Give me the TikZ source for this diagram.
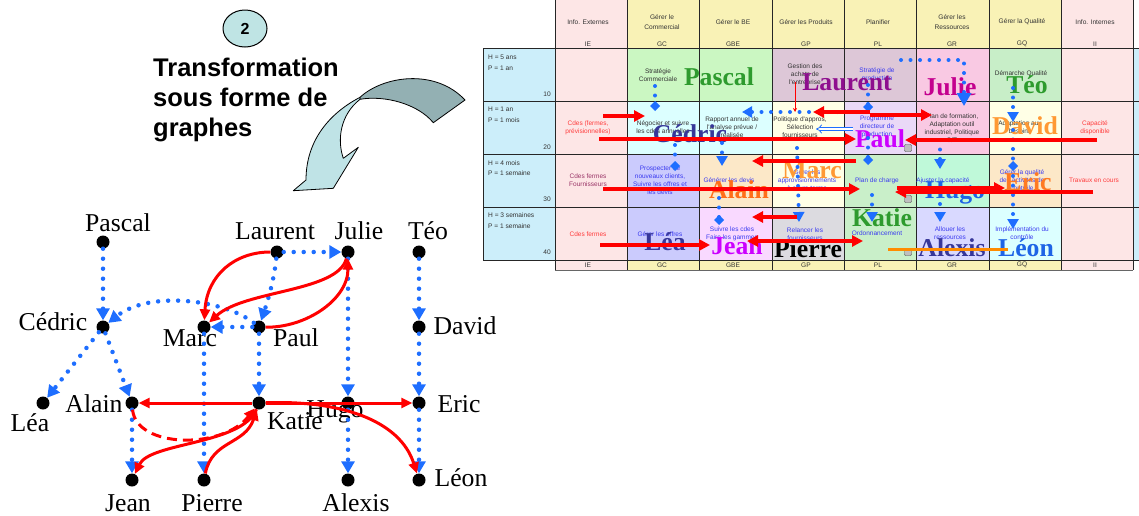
\documentclass[tikz,border=0pt]{standalone}
\usepackage{fontspec}
\setmainfont{Liberation Serif}
\newfontfamily\arial{Liberation Sans}
\usetikzlibrary{arrows.meta,shapes.geometric}
\definecolor{gblue}{HTML}{1E6EFF}
\definecolor{rowblue}{HTML}{CCEEFA}
\definecolor{cpink}{HTML}{FDE6E6}
\definecolor{cyell}{HTML}{F9F2B6}
\definecolor{cgreen}{HTML}{CBF7C2}
\definecolor{cmauve}{HTML}{DDC7D7}
\definecolor{cpinkgr}{HTML}{F9C9E3}
\definecolor{cgreengq}{HTML}{C8EEC8}
\definecolor{ccyan}{HTML}{DCFFFF}
\definecolor{civory}{HTML}{FFFFE6}
\definecolor{clav}{HTML}{EAD9F7}
\definecolor{clavblue}{HTML}{CBCBFD}
\definecolor{cpeach}{HTML}{FCE8C8}
\definecolor{cgreenpl}{HTML}{C9EFC9}
\definecolor{cmint}{HTML}{BFF9D9}
\definecolor{cpinklav}{HTML}{F9D9FF}
\definecolor{cgrey}{HTML}{DCDBE0}
\definecolor{clavgr}{HTML}{D9D9FF}
\definecolor{ctxt}{HTML}{333333}
\definecolor{cbtxt}{HTML}{3A3AF0}
\definecolor{crtxt}{HTML}{FF3B3B}
\definecolor{cmtxt}{HTML}{993366}
\definecolor{ngreen}{HTML}{2E9B2E}
\definecolor{nlaurent}{HTML}{8E0F8E}
\definecolor{njulie}{HTML}{C4008E}
\definecolor{ndblue}{HTML}{373799}
\definecolor{nviolet}{HTML}{CC00FF}
\definecolor{norange}{HTML}{FF9933}
\definecolor{nalain}{HTML}{FF6E1A}
\definecolor{neric}{HTML}{FF7A22}
\definecolor{nblue}{HTML}{1E64E6}
\definecolor{arrback}{HTML}{93B0B3}
\definecolor{arrfront}{HTML}{BFE3E6}
\definecolor{circfill}{HTML}{BFE4E4}
\definecolor{corange}{HTML}{FF8C00}
\begin{document}
\begin{tikzpicture}[x=1pt,y=-1pt,
  hdr/.style={font=\arial\fontsize{6.6}{9.3}\selectfont, text=ctxt, align=center, inner sep=0pt},
  rowtxt/.style={font=\arial\fontsize{6.6}{9}\selectfont, text=ctxt, anchor=west, inner sep=0pt},
  rownum/.style={font=\arial\fontsize{6.6}{9}\selectfont, text=ctxt, anchor=east, inner sep=0pt},
  celldark/.style={font=\arial\fontsize{6.5}{8.1}\selectfont, text=ctxt, align=center, inner sep=0pt},
  cellblue/.style={celldark, text=cbtxt},
  cellred/.style={celldark, text=crtxt},
  cellmar/.style={celldark, text=cmtxt},
  bigname/.style={font=\bfseries\fontsize{25.7}{30}\selectfont, anchor=base, inner sep=0pt},
  gline/.style={draw=black!85, line width=1pt},
  griddots/.style={draw=gblue, line width=4pt, line cap=round, dash pattern=on 0pt off 9.5pt},
  tiptri/.style={-{Triangle[length=10pt,width=11pt]}},
  tipdia/.style={-{Turned Square[length=10pt,width=10pt]}},
  gridred/.style={draw=red, line width=3.5pt, -{Triangle[length=11pt,width=11pt]}},
  robot/.style={draw=black!70, fill=black!25, line width=0.4pt, minimum width=7pt, minimum height=7pt, inner sep=0pt, rounded corners=1pt},
  vdot/.style={circle, fill=black, inner sep=0pt, minimum size=13pt},
  vlabel/.style={font=\fontsize{25.7}{30}\selectfont, anchor=base, inner sep=0pt},
  bluedots/.style={draw=gblue, line width=4.5pt, line cap=round, dash pattern=on 0pt off 10pt, -{Triangle[length=12pt,width=13pt]}},
  redarr/.style={draw=red, line width=3pt, -{Triangle[length=11pt,width=10pt]}},
  reddash/.style={redarr, dash pattern=on 10pt off 6pt}
]
\useasboundingbox (0,0) rectangle (1139,515);

% ---------------- title, circle and curved arrow
\node[ellipse, draw=black, line width=1pt, fill=circfill, minimum width=44pt, minimum height=37pt, inner sep=0pt,
  font=\arial\bfseries\fontsize{16}{18}\selectfont] (num) at (245,28.5) {2};
\node[font=\arial\bfseries\fontsize{25.5}{30}\selectfont, anchor=base west, inner sep=0pt] (t1) at (153,76) {Transformation};
\node[font=\arial\bfseries\fontsize{25.5}{30}\selectfont, anchor=base west, inner sep=0pt] (t2) at (153,106) {sous forme de};
\node[font=\arial\bfseries\fontsize{25.5}{30}\selectfont, anchor=base west, inner sep=0pt] (t3) at (153,136) {graphes};

\filldraw[fill=arrback, draw=black, line width=0.8pt, line join=round]
  (360,97.3) .. controls (383,76) and (435,68) .. (465,100) -- (433.3,122.7)
  .. controls (418,104) and (385,95) .. (360,99.3) -- cycle;
\filldraw[fill=arrfront, draw=black, line width=0.8pt, line join=round]
  (360,97.3) .. controls (330,113) and (306,140) .. (306,180) -- (293.3,190.7) -- (333.3,188.3)
  -- (358.3,147.3) -- (343.3,158.3) .. controls (337,140) and (340,115) .. (360,99.3) -- cycle;

% ---------------- grid fills
\fill[rowblue] (483,48) rectangle (555,260);
\fill[rowblue] (1133,48) rectangle (1139,260);
\foreach \xa/\xb/\c in {555/627/cpink,627/699/cyell,699/772/cyell,772/844/cyell,844/916/cyell,916/989/cyell,989/1061/cyell,1061/1133/cpink}{
  \fill[\c] (\xa,0) rectangle (\xb,48);
  \fill[\c] (\xa,260) rectangle (\xb,270);
}
\foreach \xa/\xb/\c in {555/627/cpink,627/699/cgreen,699/772/cgreen,772/844/cmauve,844/916/cmauve,916/989/cpinkgr,989/1061/cgreengq,1061/1133/cpink}
  \fill[\c] (\xa,48) rectangle (\xb,101);
\foreach \xa/\xb/\c in {555/627/cpink,627/699/ccyan,699/772/ccyan,772/844/civory,844/916/clav,916/989/cpinkgr,989/1061/civory,1061/1133/cpink}
  \fill[\c] (\xa,101) rectangle (\xb,154);
\foreach \xa/\xb/\c in {555/627/cpink,627/699/clavblue,699/772/cpeach,772/844/civory,844/916/cgreenpl,916/989/cmint,989/1061/cpeach,1061/1133/cpink}
  \fill[\c] (\xa,154) rectangle (\xb,207);
\foreach \xa/\xb/\c in {555/627/cpink,627/699/clavblue,699/772/cpinklav,772/844/cgrey,844/916/cgreenpl,916/989/clavgr,989/1061/ccyan,1061/1133/cpink}
  \fill[\c] (\xa,207) rectangle (\xb,260);

% grid lines
\foreach \x in {555,627,699,772,844,916,989,1061,1133}
  \draw[gline] (\x,0) -- (\x,270);
\draw[gline] (483,48) -- (483,260);
\foreach \y in {48,101,154,207,260}
  \draw[gline] (483,\y) -- (1139,\y);
\draw[draw=black!60, line width=0.6pt] (555,270) -- (1133,270);

% header texts
\node[hdr] at (588,22) {Info. Externes};
\node[hdr] at (662,22) {Gérer le\\Commercial};
\node[hdr] at (733,22) {Gérer le BE};
\node[hdr] at (806,22) {Gérer les Produits};
\node[hdr] at (878,22) {Planifier};
\node[hdr] at (952,22) {Gérer les\\Ressources};
\node[hdr] at (1022,22) {Gérer la Qualité};
\node[hdr] at (1095,22) {Info. Internes};
\foreach \x/\t in {588/IE,662/GC,733/GBE,806/GP,878/PL,952/GR,1022/GQ,1095/II}{
  \node[hdr] at (\x,44) {\t};
  \node[hdr] at (\x,265) {\t};
}

% row headers
\node[rowtxt] at (488,57) {H = 5 ans};
\node[rowtxt] at (488,68) {P = 1 an};
\node[rownum] at (551,94) {10};
\node[rowtxt] at (488,109) {H = 1 an};
\node[rowtxt] at (488,120.5) {P = 1 mois};
\node[rownum] at (551,147.5) {20};
\node[rowtxt] at (488,162.7) {H = 4 mois};
\node[rowtxt] at (488,172.7) {P = 1 semaine};
\node[rownum] at (551,199.3) {30};
\node[rowtxt] at (488,215) {H = 3 semaines};
\node[rowtxt] at (488,225.7) {P = 1 semaine};
\node[rownum] at (551,252.3) {40};

% cell texts row 10
\node[celldark] at (658,75) {Stratégie\\Commerciale};
\node[celldark] at (805,74.5) {Gestion des\\achats de\\l'entreprise};
\node[cellblue] at (877,75) {Stratégie de\\production};
\node[celldark] at (1021,74) {Démarche Qualité};
% row 20
\node[cellred] at (588,128) {Cdes (fermes,\\prévisionnelles)};
\node[celldark] at (663,127.5) {Négocier et suivre\\les cdes annuelles};
\node[celldark] at (732,127) {Rapport annuel de\\l'analyse prévue /\\réalisée};
\node[celldark] at (800,127) {Politique d'appros,\\Sélection\\fournisseurs};
\node[cellblue] at (877,127) {Programme\\directeur de\\production};
\node[celldark] at (952,128) {Plan de formation,\\Adaptation outil\\industriel, Politique\\S/T};
\node[celldark] at (1020,127.5) {Adaptation aux\\besoins};
\node[cellred] at (1095,127.5) {Capacité\\disponible};
% row 30
\node[cellmar] at (588,180.5) {Cdes fermes\\Fournisseurs};
\node[cellblue] at (660,180.5) {Prospecter de\\nouveaux clients,\\Suivre les offres et\\les devis};
\node[cellblue] at (729,180) {Générer les devis};
\node[cellblue] at (807,180) {Gérer les\\approvisionnements\\à cours terme};
\node[cellblue] at (877,181) {Plan de charge};
\node[cellblue] at (943,181) {Ajuster la capacité};
\node[cellblue] at (1022,180) {Gérer la qualité\\des activités de\\contrôle};
\node[cellred] at (1094,180) {Travaux en cours};
% row 40
\node[cellred] at (588,234) {Cdes fermes};
\node[cellblue] at (660,234) {Gérer les offres};
\node[cellblue] at (732,234) {Suivre les cdes\\Faire les gammes};
\node[cellblue] at (805,234) {Relancer les\\fournisseurs};
\node[cellblue] at (877,233) {Ordonnancement};
\node[cellblue] at (950,233.5) {Allouer les\\ressources};
\node[cellblue] at (1022,233.5) {Implémentation du\\contrôle};

% small icons in PL column
\node[robot] (ic1) at (908,148) {};
\node[robot] (ic2) at (908,199) {};
\node[robot] (ic3) at (908,252) {};

% big names on grid
\node[bigname, text=ngreen] at (719,85) {Pascal};
\node[bigname, text=nlaurent] at (847,90) {Laurent};
\node[bigname, text=njulie] at (950,95) {Julie};
\node[bigname, text=ngreen] at (1027,93) {Téo};
\node[bigname, text=ndblue] at (690,142) {Cédric};
\node[bigname, text=nviolet] at (880,147) {Paul};
\node[bigname, text=norange] at (1025,134) {David};
\node[bigname, text=norange] at (812,178) {Marc};
\node[bigname, text=nalain] at (739,198) {Alain};
\node[bigname, text=nblue] at (955,198) {Hugo};
\node[bigname, text=neric] at (1028,190) {Eric};
\node[bigname, text=ngreen] at (882,226) {Katie};
\node[bigname, text=ndblue] at (665,250) {Léa};
\node[bigname, text=nviolet] at (737,254) {Jean};
\node[bigname, text=black] at (808,257) {Pierre};
\node[bigname, text=ndblue] at (952,256) {Alexis};
\node[bigname, text=nblue] at (1026,256) {Léon};

% blue dotted arrows on grid
\draw[griddots, tipdia] (655,86) -- (655,111);
\draw[griddots, tipdia] (675,145) -- (675,171);
\draw[griddots, tiptri] (722,143) -- (722,166);
\draw[griddots, tipdia] (719,198) -- (719,225);
\draw[griddots, tiptri] (797,148) -- (799,222);
\draw[griddots, tipdia] (868,85) -- (868,112);
\draw[griddots, tipdia] (868,138) -- (868,165);
\draw[griddots, tiptri] (872,195) -- (872,222);
\draw[griddots, -{Triangle[length=13pt,width=14pt]}] (901,60) -- (964,60) -- (964,106);
\draw[griddots, tiptri] (940,140) -- (940,169);
\draw[griddots, tiptri] (940,204) -- (940,222);
\draw[griddots, tiptri] (1013,88) -- (1013,122);
\draw[griddots, tipdia] (1013,130) -- (1013,171);
\draw[griddots, tiptri] (1013,176) -- (1013,229);
\draw[griddots, tiptri] (866,112) -- (742,112);
\draw[gblue, line width=0.8pt, double, double distance=2.2pt, -Implies] (853,129) -- (816,129);
\draw[red, line width=1pt, -{Stealth[length=4pt,width=4pt]}] (795,82) -- (795,112);

% red arrows on grid
\draw[gridred] (603,116) -- (645,116);
\draw[gridred] (599,139) -- (856,139);
\draw[gridred] (870,112) -- (813,112);
\draw[gridred] (870,115) -- (932,115);
\draw[gridred] (1097,140) -- (905,140);
\draw[gridred] (856,161) -- (752,161);
\draw[gridred] (603,189) -- (860,189);
\draw[gridred] (897,188) -- (1005,188);
\draw[gridred] (1093,192) -- (895,192);
\draw[gridred] (797,217) -- (752,217);
\draw[gridred] (600,245) -- (710,245);
\draw[gridred] (805,241) -- (747,241);
\draw[gridred] (805,241) -- (863,241);
\draw[corange, line width=3pt] (888,249) -- (1008,249);

% ---------------- graph
\node[vlabel] (lpascal) at (118,231) {Pascal};
\node[vlabel] (llaurent) at (275,239) {Laurent};
\node[vlabel] (ljulie) at (359,239) {Julie};
\node[vlabel] (lteo) at (428,239) {Téo};
\node[vlabel] (lcedric) at (53,330) {Cédric};
\node[vlabel] (lmarc) at (190,346) {Marc};
\node[vlabel] (lpaul) at (296,346) {Paul};
\node[vlabel] (ldavid) at (465,334) {David};
\node[vlabel] (llea) at (30,431) {Léa};
\node[vlabel] (lalain) at (94,412) {Alain};
\node[vlabel] (lhugo) at (335,417) {Hugo};
\node[vlabel] (lkatie) at (295,429) {Katie};
\node[vlabel] (leric) at (459,412) {Eric};
\node[vlabel] (ljean) at (128,511) {Jean};
\node[vlabel] (lpierre) at (212,511) {Pierre};
\node[vlabel] (lalexis) at (356,511) {Alexis};
\node[vlabel] (lleon) at (461,486) {Léon};

\node[vdot] (pascal) at (103,242) {};
\node[vdot] (laurent) at (277,252) {};
\node[vdot] (julie) at (348,252) {};
\node[vdot] (teo) at (419,252) {};
\node[vdot] (cedric) at (103,327) {};
\node[vdot] (marc) at (204,327) {};
\node[vdot] (paul) at (259,327) {};
\node[vdot] (david) at (419,327) {};
\node[vdot] (lea) at (43,403) {};
\node[vdot] (alain) at (132,403) {};
\node[vdot] (katie) at (259,403) {};
\node[vdot] (hugo) at (348,403) {};
\node[vdot] (eric) at (419,403) {};
\node[vdot] (jean) at (132,480) {};
\node[vdot] (pierre) at (204,480) {};
\node[vdot] (alexis) at (348,480) {};
\node[vdot] (leon) at (419,480) {};

% blue dotted edges
\draw[bluedots] (pascal) -- (cedric);
\draw[bluedots] (laurent) -- (julie);
\draw[bluedots] (laurent) .. controls (274,280) and (268,300) .. (paul);
\draw[bluedots] (teo) -- (david);
\draw[bluedots] (cedric) -- (lea);
\draw[bluedots] (cedric) -- (alain);
\draw[bluedots] (paul) .. controls (225,300) and (150,290) .. (cedric);
\draw[bluedots] (paul) -- (marc);
\draw[bluedots] (paul) -- (katie);
\draw[bluedots] (marc) -- (pierre);
\draw[bluedots] (julie) -- (hugo);
\draw[bluedots] (david) -- (eric);
\draw[bluedots] (alain) -- (jean);
\draw[bluedots] (hugo) -- (alexis);
\draw[bluedots] (eric) -- (leon);

% red edges
\draw[redarr] (laurent) .. controls (235,252) and (207,275) .. (marc);
\draw[redarr] (julie) .. controls (338,292) and (245,290) .. (marc);
\draw[redarr] (paul) .. controls (305,328) and (348,300) .. (julie);
\draw[redarr] (katie) -- (alain);
\draw[redarr] (katie) -- (eric);
\draw[reddash] (alain) .. controls (136,448) and (222,450) .. (katie);
\draw[redarr] (katie) .. controls (242,445) and (150,442) .. (jean);
\draw[redarr] (pierre) .. controls (212,440) and (245,445) .. (katie);
\draw[redarr] (katie) .. controls (340,400) and (400,420) .. (leon);
\end{tikzpicture}
\end{document}
